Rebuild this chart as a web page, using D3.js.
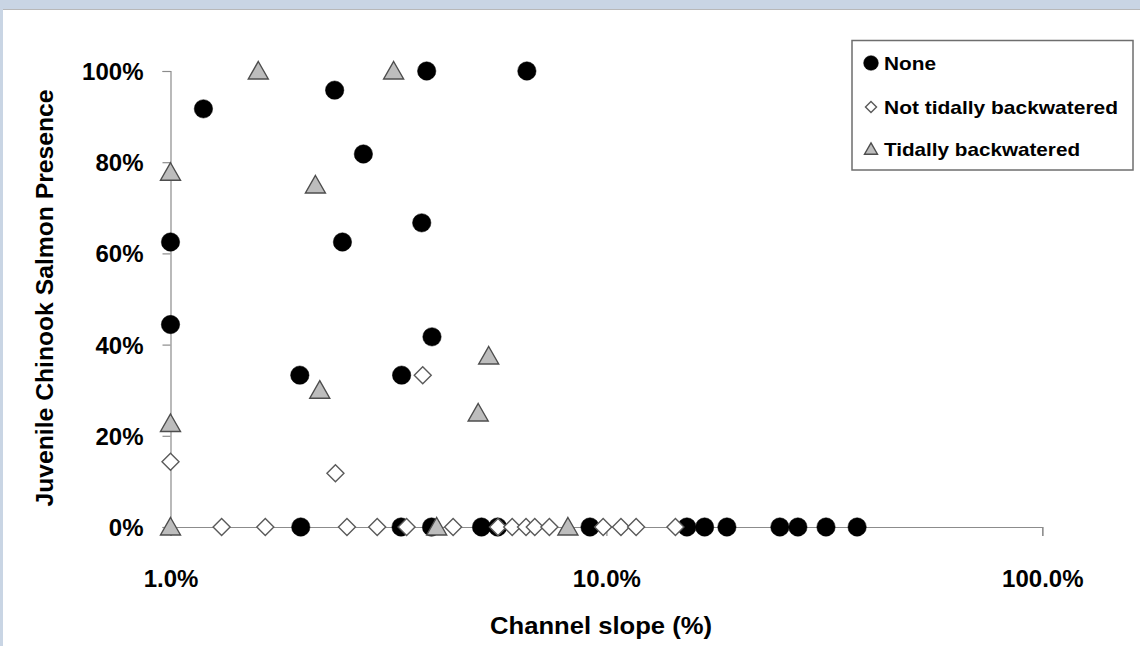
<!DOCTYPE html>
<html>
<head>
<meta charset="utf-8">
<script src="https://cdn.jsdelivr.net/npm/d3@7"></script>
<style>
  body { margin: 0; background: #c9d5e4; }
  svg { display: block; }
  text { font-family: "Liberation Sans", Arial, sans-serif; font-weight: bold; fill: #000; }
</style>
</head>
<body>
<svg id="chart" width="1140" height="646"></svg>
<script>
// channel slope (%) and juvenile chinook presence (%) per site, by backwater type
const noneSlope = [1.19, 2.38, 2.77, 3.87, 6.57, 3.77, 2.48, 1.0, 1.0, 3.98, 1.98, 3.39,
  1.99, 3.38, 3.97, 5.17, 5.63, 9.17, 15.3, 16.8, 18.9, 25.0, 27.5, 31.9, 37.6]
const nonePresence = [91.7, 95.8, 81.8, 100, 100, 66.7, 62.5, 62.5, 44.4, 41.7, 33.3, 33.3,
  0, 0, 0, 0, 0, 0, 0, 0, 0, 0, 0, 0, 0]

const notTidalSlope = [1.0, 2.39, 3.79,
  1.31, 1.65, 2.54, 2.98, 3.48, 4.45, 5.64, 6.08, 6.54, 6.85, 7.40, 9.83, 10.8, 11.7, 14.4]
const notTidalPresence = [14.3, 11.8, 33.3,
  0, 0, 0, 0, 0, 0, 0, 0, 0, 0, 0, 0, 0, 0, 0]

const tidalSlope = [1.59, 3.25, 1.0, 2.15, 2.20, 5.37, 5.08, 1.0, 1.0, 4.08, 8.16]
const tidalPresence = [100, 100, 77.8, 75, 30, 37.5, 25, 22.7, 0, 0, 0]

const xTicks = [1, 10, 100]
const yTicks = [0, 20, 40, 60, 80, 100]
const seriesNames = ['None', 'Not tidally backwatered', 'Tidally backwatered']

const svg = d3.select('#chart')

// white chart area inside the window frame
svg.append('rect').attr('x', 3).attr('y', 9).attr('width', 1137).attr('height', 637)
    .attr('fill', '#fff')
svg.append('line').attr('x1', 3).attr('x2', 1140).attr('y1', 9.5).attr('y2', 9.5)
    .attr('stroke', '#b8b8b8')

const x = d3.scaleLog().domain([1, 100]).range([170.5, 1042.3])
const y = d3.scaleLinear().domain([0, 100]).range([527, 71])

const axisColor = '#8c8c8c'

const gy = svg.append('g').attr('transform', 'translate(170.5,0)')
    .call(d3.axisLeft(y).tickValues(yTicks).tickSize(8).tickPadding(19)
      .tickFormat(d => d + '%'))
const gx = svg.append('g').attr('transform', 'translate(0,527)')
    .call(d3.axisBottom(x).tickValues(xTicks).tickSize(9)
      .tickFormat(d => d3.format('.1f')(d) + '%'))

for (const g of [gx, gy]) {
  g.select('.domain').attr('stroke', axisColor).attr('stroke-width', 1.2)
  g.selectAll('.tick line').attr('stroke', axisColor).attr('stroke-width', 1.2)
  g.selectAll('text').attr('font-size', 24).attr('font-family', null)
}
gy.selectAll('text').attr('dy', '0.35em')
gx.selectAll('text').attr('y', 60).attr('dy', 0)

// axis titles
svg.append('text')
    .attr('x', 601).attr('y', 634)
    .attr('text-anchor', 'middle')
    .attr('font-size', 24)
    .attr('textLength', 222).attr('lengthAdjust', 'spacingAndGlyphs')
    .text('Channel slope (%)')
svg.append('text')
    .attr('transform', 'translate(53,298) rotate(-90)')
    .attr('text-anchor', 'middle')
    .attr('font-size', 23)
    .attr('textLength', 417).attr('lengthAdjust', 'spacingAndGlyphs')
    .text('Juvenile Chinook Salmon Presence')

// marker shapes
const circle = d3.symbol().type(d3.symbolCircle).size(Math.PI * 9.2 * 9.2)
const diamond = 'M0,-8.5L8.5,0L0,8.5L-8.5,0Z'
const triangle = 'M0,-9.5L10,8L-10,8Z'

const styles = [
  { path: circle(), fill: '#000', stroke: '#000', sw: 0.5 },
  { path: diamond, fill: '#fff', stroke: '#5a5a5a', sw: 1.4 },
  { path: triangle, fill: '#bdbdbd', stroke: '#4d4d4d', sw: 1.4 }
]

const series = [
  d3.zip(noneSlope, nonePresence),
  d3.zip(notTidalSlope, notTidalPresence),
  d3.zip(tidalSlope, tidalPresence)
]

series.forEach((pts, i) => {
  const st = styles[i]
  svg.append('g').selectAll('path').data(pts).enter().append('path')
      .attr('d', st.path)
      .attr('transform', d => 'translate(' + x(d[0]) + ',' + y(d[1]) + ')')
      .attr('fill', st.fill)
      .attr('stroke', st.stroke)
      .attr('stroke-width', st.sw)
})

// legend
const lg = svg.append('g')
lg.append('rect').attr('x', 852).attr('y', 40.5).attr('width', 281).attr('height', 129.5)
    .attr('fill', '#fff').attr('stroke', '#6e6e6e').attr('stroke-width', 1.5)

const legendY = [63, 107, 149]
const legendW = [52, 234, 196]
const legendScale = [0.8, 0.65, 0.65]
seriesNames.forEach((name, i) => {
  const st = styles[i]
  lg.append('path').attr('d', st.path)
      .attr('transform', 'translate(871,' + legendY[i] + ') scale(' + legendScale[i] + ')')
      .attr('fill', st.fill).attr('stroke', st.stroke).attr('stroke-width', st.sw / legendScale[i])
  lg.append('text')
      .attr('x', 884).attr('y', legendY[i] + 6.5)
      .attr('font-size', 19)
      .attr('textLength', legendW[i]).attr('lengthAdjust', 'spacingAndGlyphs')
      .text(name)
})
</script>
</body>
</html>
